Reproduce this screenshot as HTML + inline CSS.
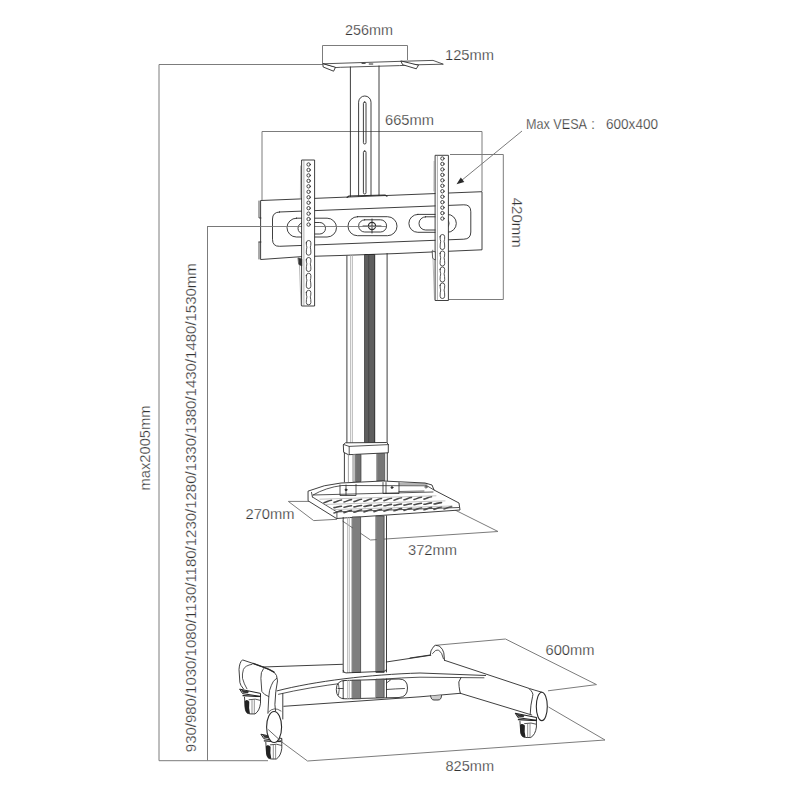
<!DOCTYPE html>
<html><head><meta charset="utf-8">
<style>
html,body{margin:0;padding:0;background:#fff;}
body{width:800px;height:800px;overflow:hidden;}
svg{display:block;}
text{font-family:"Liberation Sans",sans-serif;fill:#333;font-size:14.5px;stroke:#fff;stroke-width:0.25px;}
</style></head>
<body>
<svg width="800" height="800" viewBox="0 0 800 800">
<rect width="800" height="800" fill="#fff"/>
<!-- DIMENSIONS -->
<g fill="none" stroke="#7c7c7c" stroke-width="1">
  <path d="M322.5,64.5 H159 V760.7 H268"/>
  <path d="M372,226.5 H207.5 V760.5"/>
  <path d="M322.5,63 V45.5 H407.5 V60"/>
  <path d="M262,200 V131.5 H482 V191"/>
  <path d="M450,154.5 H503.3 V299.5 H449"/>
  <path d="M522,131 L461.5,180.5"/>
  <!-- shelf footprint -->
  <path d="M309,501.4 H288.3 L313.7,520.6 L337,519.3"/>
  <path d="M342.5,521 L370.5,540 L498,531.5 L455,510"/>
  <!-- base footprint -->
  <path d="M435.5,645.3 L505.5,639 L596.5,684.6 L548,690.8"/>
  <path d="M548.5,707 L605,740 L307.5,761 L282.5,742.5"/>
</g>
<path d="M456.5,184.2 L460.8,177.6 L464.3,182 Z" fill="#2a2a2a"/>
<!-- TEXTS -->
<text x="345" y="35" textLength="48" lengthAdjust="spacingAndGlyphs">256mm</text>
<text x="445" y="60" textLength="49" lengthAdjust="spacingAndGlyphs">125mm</text>
<text x="385" y="125" textLength="49" lengthAdjust="spacingAndGlyphs">665mm</text>
<text x="526" y="129" textLength="61" lengthAdjust="spacingAndGlyphs">Max VESA</text><text x="591" y="129">:</text><text x="606" y="129" textLength="52" lengthAdjust="spacingAndGlyphs">600x400</text>
<text transform="translate(512,197.7) rotate(90)" x="0" y="0" textLength="50" lengthAdjust="spacingAndGlyphs">420mm</text>
<text transform="translate(150.2,490.5) rotate(-90)" x="0" y="0" textLength="85" lengthAdjust="spacingAndGlyphs">max2005mm</text>
<text transform="translate(196.2,752.2) rotate(-90)" x="0" y="0" textLength="489" lengthAdjust="spacingAndGlyphs">930/980/1030/1080/1130/1180/1230/1280/1330/1380/1430/1480/1530mm</text>
<text x="245.5" y="519.2" textLength="49" lengthAdjust="spacingAndGlyphs">270mm</text>
<text x="408" y="555" textLength="49" lengthAdjust="spacingAndGlyphs">372mm</text>
<text x="545.5" y="654.8" textLength="49" lengthAdjust="spacingAndGlyphs">600mm</text>
<text x="445.5" y="771.2" textLength="48.5" lengthAdjust="spacingAndGlyphs">825mm</text>
<!-- DRAWING -->
<g id="drawing" fill="none" stroke="#2a2a2a" stroke-width="0.9" stroke-linejoin="round" stroke-linecap="round">
<!-- top plate -->
<path d="M323,63.8 L401,61.3 L433,60.4 L443.3,64.2 L416,64.8 L399.4,65.6 L340.3,67.3 L335.3,67.6 Z" fill="#fff" stroke-width="0.8"/>
<path d="M322.8,64 L323.2,67 L333.6,71.2 L335.3,67.6 Z" fill="#fff" stroke-width="0.9"/>
<path d="M401,61.3 L402.6,64.7 L416.3,68.8 L418.3,65.5 Z" fill="#fff" stroke-width="0.9"/>
<path d="M362,63.3 h3.2 M369.2,64 h3.6" stroke-width="1"/>
<!-- upper column -->
<path d="M350.4,67 V197 M379,66 V196"/>
<path d="M358.6,197 V102.2 A6.2,6.2 0 0 1 371,102.2 V196"/>
<rect x="363.4" y="102" width="2.6" height="42" rx="1.3"/>
<rect x="363.4" y="151" width="2.6" height="43" rx="1.3"/>
<!-- crossbar -->
<path d="M261,200.5 L482,191.7 V249.8 L395,253.6 L340,255.5 L302,256.6 L261,259.5 Z" fill="#fff"/>
<path d="M259,201 V218 H261 M259,242 H261 M259,242 V259" stroke-width="0.8"/>
<path d="M347,197.5 L349,196 L385,195 L387,196.2" stroke-width="1.1"/>
<path d="M279.5,212 L463.8,204.8 Q470.8,204.5 470.8,211.8 V232 Q470.8,239 463.8,239.2 L279.5,246.3 Q272.5,246.5 272.5,239.3 V219 Q272.5,212.2 279.5,212 Z"/>
<rect x="287" y="218.2" width="49.5" height="18.8" rx="9.4"/>
<rect x="298" y="222.5" width="27.5" height="11.5" rx="5.7"/>
<rect x="348" y="216.7" width="49" height="19" rx="9.5"/>
<rect x="358.6" y="219.8" width="28" height="12.2" rx="6.1"/>
<circle cx="372" cy="226" r="3.6" stroke-width="1.1"/>
<path d="M363,226 H381 M372,219 V233" stroke-width="0.9"/>
<rect x="408.9" y="214.4" width="47.4" height="17.9" rx="8.9"/>
<rect x="419" y="216.8" width="30" height="13.2" rx="6.6"/>
<!-- lower column under bar -->
<path d="M346.9,256 V443.5 M387.1,253.5 V443.5"/>
<path d="M350.6,255.5 V443.5 M352.4,255.5 V443.5" stroke="#aaa" stroke-width="0.8"/>
<rect x="365.1" y="254.5" width="9.6" height="189" fill="#5e5e5e" stroke="#2a2a2a" stroke-width="1"/>
<path d="M368.7,254.5 V443.5" stroke="#3a3a3a" stroke-width="0.6"/>
<!-- collar -->
<path d="M343.6,444.5 L345.5,442.8 L386.5,442.5 L388.3,444.2 V452.8 L348.4,454.7 L344,452.5 Z" fill="#fff"/>
<path d="M343.6,444.5 L349.2,446.4 L388.3,444.6 M349.2,446.4 V454.6" stroke-width="0.8"/>
<!-- column between collar and shelf -->
<path d="M344.4,453 V482 M387.3,453 V481"/>
<path d="M348.4,455 V482" stroke="#999" stroke-width="0.9"/>
<rect x="353.2" y="454.6" width="3" height="27" fill="#bdbdbd" stroke="#777" stroke-width="0.6"/>
<rect x="356.2" y="454.5" width="4.8" height="27" fill="#707070" stroke="#444" stroke-width="0.7"/>
<rect x="377.2" y="453.5" width="7.5" height="27.5" fill="#767676" stroke="#444" stroke-width="0.7"/>

<path d="M207.5,226.5 H386" stroke="#777" stroke-width="0.9"/>
<rect x="302" y="160" width="12.600000000000023" height="146" fill="#fff" stroke="none"/>
<path d="M302,160 H314.6 V306 H302 Z"/>
<path d="M303.9,160.5 V305.5" stroke-width="0.6" stroke="#777"/>
<path d="M300.6,166 L300.4,198 M299.2,259 L301,305" stroke-width="0.6" stroke="#888"/>
<circle cx="308.6" cy="164.50" r="1.7" stroke-width="0.85"/>
<circle cx="308.6" cy="169.96" r="1.7" stroke-width="0.85"/>
<circle cx="308.6" cy="175.42" r="1.7" stroke-width="0.85"/>
<circle cx="308.6" cy="180.88" r="1.7" stroke-width="0.85"/>
<circle cx="308.6" cy="186.34" r="1.7" stroke-width="0.85"/>
<circle cx="308.6" cy="191.80" r="1.7" stroke-width="0.85"/>
<circle cx="308.6" cy="197.26" r="1.7" stroke-width="0.85"/>
<circle cx="308.6" cy="202.72" r="1.7" stroke-width="0.85"/>
<circle cx="308.6" cy="208.18" r="1.7" stroke-width="0.85"/>
<circle cx="308.6" cy="213.64" r="1.7" stroke-width="0.85"/>
<circle cx="308.6" cy="219.10" r="1.7" stroke-width="0.85"/>
<circle cx="308.6" cy="224.56" r="1.7" stroke-width="0.85"/>
<path d="M306.3,242.8 A2.3,2.3 0 0 1 310.90000000000003,242.8 Q310.90000000000003,245.91500000000002 310.3,247.115 Q310.90000000000003,249.615 310.90000000000003,252.89999999999998 A2.3,2.3 0 0 1 306.3,252.89999999999998 Q306.3,249.615 306.90000000000003,247.115 Q306.3,245.91500000000002 306.3,242.8 Z" stroke-width="0.8"/>
<path d="M306.3,259.8 A2.3,2.3 0 0 1 310.90000000000003,259.8 Q310.90000000000003,262.6 310.3,263.8 Q310.90000000000003,266.3 310.90000000000003,269.2 A2.3,2.3 0 0 1 306.3,269.2 Q306.3,266.3 306.90000000000003,263.8 Q306.3,262.6 306.3,259.8 Z" stroke-width="0.8"/>
<path d="M306.3,275.6 A2.3,2.3 0 0 1 310.90000000000003,275.6 Q310.90000000000003,278.94 310.3,280.14 Q310.90000000000003,282.64 310.90000000000003,286.2 A2.3,2.3 0 0 1 306.3,286.2 Q306.3,282.64 306.90000000000003,280.14 Q306.3,278.94 306.3,275.6 Z" stroke-width="0.8"/>
<path d="M306.3,292.6 A2.3,2.3 0 0 1 310.90000000000003,292.6 Q310.90000000000003,295.625 310.3,296.825 Q310.90000000000003,299.325 310.90000000000003,302.5 A2.3,2.3 0 0 1 306.3,302.5 Q306.3,299.325 306.90000000000003,296.825 Q306.3,295.625 306.3,292.6 Z" stroke-width="0.8"/>
<!--R-->
<rect x="435.5" y="155.3" width="12.899999999999977" height="145.2" fill="#fff" stroke="none"/>
<path d="M435.5,155.3 H448.4 V300.5 H435.5 Z"/>
<path d="M437.4,155.8 V300.0" stroke-width="0.6" stroke="#777"/>
<path d="M434.1,161.3 L433.9,191 M432.7,250 L434.5,299.5" stroke-width="0.6" stroke="#888"/>
<circle cx="442.4" cy="158.50" r="1.7" stroke-width="0.85"/>
<circle cx="442.4" cy="163.96" r="1.7" stroke-width="0.85"/>
<circle cx="442.4" cy="169.42" r="1.7" stroke-width="0.85"/>
<circle cx="442.4" cy="174.88" r="1.7" stroke-width="0.85"/>
<circle cx="442.4" cy="180.34" r="1.7" stroke-width="0.85"/>
<circle cx="442.4" cy="185.80" r="1.7" stroke-width="0.85"/>
<circle cx="442.4" cy="191.26" r="1.7" stroke-width="0.85"/>
<circle cx="442.4" cy="196.72" r="1.7" stroke-width="0.85"/>
<circle cx="442.4" cy="202.18" r="1.7" stroke-width="0.85"/>
<circle cx="442.4" cy="207.64" r="1.7" stroke-width="0.85"/>
<circle cx="442.4" cy="213.10" r="1.7" stroke-width="0.85"/>
<circle cx="442.4" cy="218.56" r="1.7" stroke-width="0.85"/>
<path d="M440.09999999999997,236.8 A2.3,2.3 0 0 1 444.7,236.8 Q444.7,240.05 444.09999999999997,241.25 Q444.7,243.75 444.7,247.2 A2.3,2.3 0 0 1 440.09999999999997,247.2 Q440.09999999999997,243.75 440.7,241.25 Q440.09999999999997,240.05 440.09999999999997,236.8 Z" stroke-width="0.8"/>
<path d="M440.09999999999997,253.3 A2.3,2.3 0 0 1 444.7,253.3 Q444.7,256.55 444.09999999999997,257.75 Q444.7,260.25 444.7,263.7 A2.3,2.3 0 0 1 440.09999999999997,263.7 Q440.09999999999997,260.25 440.7,257.75 Q440.09999999999997,256.55 440.09999999999997,253.3 Z" stroke-width="0.8"/>
<path d="M440.09999999999997,269.3 A2.3,2.3 0 0 1 444.7,269.3 Q444.7,272.55 444.09999999999997,273.75 Q444.7,276.25 444.7,279.7 A2.3,2.3 0 0 1 440.09999999999997,279.7 Q440.09999999999997,276.25 440.7,273.75 Q440.09999999999997,272.55 440.09999999999997,269.3 Z" stroke-width="0.8"/>
<path d="M440.09999999999997,285.3 A2.3,2.3 0 0 1 444.7,285.3 Q444.7,288.77500000000003 444.09999999999997,289.975 Q444.7,292.475 444.7,296.2 A2.3,2.3 0 0 1 440.09999999999997,296.2 Q440.09999999999997,292.475 440.7,289.975 Q440.09999999999997,288.77500000000003 440.09999999999997,285.3 Z" stroke-width="0.8"/>
<path d="M298.3,258 L301.8,259 V266 L299,264.5 Z" fill="#333" stroke-width="0.6"/>
<path d="M432.5,251 L435.3,252 V260 L433,258.5 Z" fill="#fff" stroke-width="0.7"/>

<!-- shelf -->
<path d="M308.4,491 Q324,484.5 341,483 L383,481 L425,483 L432,485 L434,490 L459,503 L460,510 L336.5,518.5 L308.4,501 Z" fill="#fff"/>
<path d="M336.9,512 V518.3 M311.5,492.4 L312.4,497" stroke-width="0.8"/>
<path d="M313,495 Q326,487.5 342,485.5 L427,485.8 L434,490" stroke-width="0.8"/>
<path d="M312.4,497 L336.9,511.9 L459,507.5" stroke-width="0.8"/>
<path d="M313,495 L433,492" stroke-width="0.8"/>
<path d="M340,485 V495.5 H356 V484.5 M346,485 V495" stroke-width="0.8"/>
<path d="M383,482.5 V493.5 H399 V482.5 M386,482.5 V493.5" stroke-width="0.8"/>
<path d="M399,484 H427 M399,491.5 L424,491" stroke-width="0.7"/>
<circle cx="426" cy="487" r="1.1" stroke-width="0.7"/>
<circle cx="346" cy="489.8" r="0.9" fill="#333"/>
<circle cx="392" cy="487.5" r="0.9" fill="#333"/>
<g stroke="#4a4a4a" stroke-width="1.6" stroke-linecap="round">
<path d="M324.0,502.7 c2.5,-0.3 4.5,-2.2 7.5,-2.4 M334.0,502.4 c2.5,-0.3 4.5,-2.2 7.5,-2.4 M344.0,502.0 c2.5,-0.3 4.5,-2.2 7.5,-2.4 M354.0,501.6 c2.5,-0.3 4.5,-2.2 7.5,-2.4 M364.0,501.3 c2.5,-0.3 4.5,-2.2 7.5,-2.4 M374.0,500.9 c2.5,-0.3 4.5,-2.2 7.5,-2.4 M384.0,500.6 c2.5,-0.3 4.5,-2.2 7.5,-2.4 M394.0,500.2 c2.5,-0.3 4.5,-2.2 7.5,-2.4 M404.0,499.8 c2.5,-0.3 4.5,-2.2 7.5,-2.4 M414.0,499.5 c2.5,-0.3 4.5,-2.2 7.5,-2.4 M424.0,499.1 c2.5,-0.3 4.5,-2.2 7.5,-2.4"/>
<path d="M334.0,507.6 c2.5,-0.3 4.5,-1.2 7.5,-1.4 M344.0,507.2 c2.5,-0.3 4.5,-1.2 7.5,-1.4 M354.0,506.9 c2.5,-0.3 4.5,-1.2 7.5,-1.4 M364.0,506.5 c2.5,-0.3 4.5,-1.2 7.5,-1.4 M374.0,506.1 c2.5,-0.3 4.5,-1.2 7.5,-1.4 M384.0,505.8 c2.5,-0.3 4.5,-1.2 7.5,-1.4 M394.0,505.4 c2.5,-0.3 4.5,-1.2 7.5,-1.4 M404.0,505.1 c2.5,-0.3 4.5,-1.2 7.5,-1.4 M414.0,504.7 c2.5,-0.3 4.5,-1.2 7.5,-1.4 M424.0,504.3 c2.5,-0.3 4.5,-1.2 7.5,-1.4 M434.0,504.0 c2.5,-0.3 4.5,-1.2 7.5,-1.4"/>
<path d="M334.0,513.0 c2.5,-0.3 4.5,-2.2 7.5,-2.4 M344.0,512.6 c2.5,-0.3 4.5,-2.2 7.5,-2.4 M354.0,512.3 c2.5,-0.3 4.5,-2.2 7.5,-2.4 M364.0,511.9 c2.5,-0.3 4.5,-2.2 7.5,-2.4 M374.0,511.6 c2.5,-0.3 4.5,-2.2 7.5,-2.4 M384.0,511.2 c2.5,-0.3 4.5,-2.2 7.5,-2.4 M394.0,510.8 c2.5,-0.3 4.5,-2.2 7.5,-2.4 M404.0,510.5 c2.5,-0.3 4.5,-2.2 7.5,-2.4 M414.0,510.1 c2.5,-0.3 4.5,-2.2 7.5,-2.4 M424.0,509.8 c2.5,-0.3 4.5,-2.2 7.5,-2.4 M434.0,509.4 c2.5,-0.3 4.5,-2.2 7.5,-2.4 M444.0,509.0 c2.5,-0.3 4.5,-2.2 7.5,-2.4"/>
<path d="M320,499.2 L436,495.8 M326,504.4 L445,500.9 M332,509.6 L452,506" stroke="#aaa" stroke-width="0.7"/>
</g>
<!-- lower column -->
<path d="M343.2,517.5 V672.5 M386.5,515.8 V672"/>
<path d="M347.6,517.3 V672.5 M349.3,517.2 V672.5" stroke="#aaa" stroke-width="0.8"/>
<rect x="352.5" y="517" width="8.1" height="155.5" fill="#7e7e7e" stroke="#444" stroke-width="0.8"/>
<rect x="376.3" y="516" width="7.8" height="156.5" fill="#7e7e7e" stroke="#444" stroke-width="0.8"/>
<path d="M343.2,670.5 Q343.5,673 346,672.9 L384,671.3 Q386.5,671 386.5,669.5"/>
<!-- base -->
<path d="M263,667 L342.5,664.3 M386.3,662 L431,655.2"/>
<path d="M277,690.9 C315,681 370,674.5 420,673 L485.6,675.5" />
<path d="M278.5,694.3 C318,685 372,678.5 420,677.2 L484,677.8" stroke-width="0.8"/>
<path d="M283.8,706.3 L420,696.8 L460.3,693.3"/>
<path d="M282.8,693.5 V719"/>
<path d="M345,680.5 L399,679 Q407.5,679 407.5,688 Q407.5,697 399,697.5 L345,698.8 Q336.3,698.8 336.3,689.5 Q336.3,680.5 345,680.5 Z" fill="#fff"/>
<path d="M343.2,680.5 V698.8 M386.5,679 V697.5"/>
<path d="M347.6,680.5 V698.8 M349.3,680.5 V698.8" stroke="#aaa" stroke-width="0.8"/>
<rect x="352.5" y="680.3" width="8.1" height="18.5" fill="#7e7e7e" stroke="#444" stroke-width="0.8"/>
<rect x="376.3" y="679.2" width="7.8" height="18.3" fill="#7e7e7e" stroke="#444" stroke-width="0.8"/>
<path d="M338,688.5 H343 M386.5,689.5 Q396,688.8 404.5,688.5 M386.5,683 L390.5,680" stroke-width="0.8"/>
<path d="M338.5,684 Q340,690 338.5,695" stroke-width="0.7"/>
<path d="M430.6,695.8 Q431,700 434,700 H438 Q441.5,700 441.5,695.5" fill="#ccc"/>
<!-- left leg -->
<path d="M243.4,688.8 Q240.2,685 239.9,682.6 L239,669.5 Q239.5,662 242.5,659.9 L253,663.4 L262.6,666.9 Q270,669.5 274,672.1 Q277.3,674.5 277.5,680.9 L275.8,691.4 L274.9,704.5 L275.5,711" fill="#fff"/>
<path d="M252,664.3 Q245,665.5 243.4,669.5 Q242,674 242.5,678.3 Q244,684 246.9,688.8" stroke-width="0.8"/>
<path d="M263.5,668.6 Q260.5,672 260.9,678.3 L261.8,691.4 Q264,695 268.8,696.6" stroke-width="0.85"/>
<path d="M276.6,678.3 Q272.5,681 271.4,685.3 Q269,690 268.8,696.6 L267.9,713.3" stroke-width="0.85"/>
<path d="M253,663.4 L262.6,666.9 Q270,669.5 274,672.1" stroke-width="1.3"/>
<!-- casters -->
<defs><g id="cst">
<path d="M0,0 L20.5,4.2 V7.2 L3,4.5 Z" fill="#fff" stroke="#222" stroke-width="1"/>
<path d="M1,0.5 L9,2 L8,4 L3,3.5 Z" fill="#333" stroke="none"/>
<path d="M3,6.5 L20.5,7.5" stroke-width="1.2" stroke="#222"/>
<path d="M4.5,8 L5.3,20 Q6.2,24.4 10,24.7 L15,24.7 Q19.5,22 20.5,14 L20.5,8" fill="#fff"/>
<path d="M9,10.5 Q16,9 20,11" stroke-width="0.8"/>
<path d="M4.6,12 Q4.4,22 7.2,24.2 L10,24.5 Q8.6,19 9.3,12.5 Q8,10.5 6,11 Z" fill="#222" stroke="none"/>
<path d="M12,10.5 V24.6 M14.3,10.5 V24.6" stroke-width="0.7" stroke="#666"/>
</g></defs>
<use href="#cst" transform="translate(240,689.2)"/>
<use href="#cst" transform="translate(261.3,734.3)"/>
<use href="#cst" transform="translate(515.3,713.3) scale(1.03,0.98)"/>
<ellipse cx="274.1" cy="727" rx="7.5" ry="15.5" fill="#fff" stroke-width="1.1"/>
<path d="M268.5,712 Q274,706 281,711" stroke-width="0.7"/>
<path d="M268.5,729.8 L282.5,742.5" stroke="#6a6a6a" stroke-width="1"/>
<!-- right leg -->
<path d="M410,658 L430.3,655"/>
<path d="M444.5,660.3 L529.4,688.5 Q534,690 541.8,692.2"/>
<path d="M460.3,693.3 L531.8,715"/>
<path d="M461,677.5 Q457.5,682 459.1,686.5 Q459.5,690 460.3,693.3"/>
<path d="M529.4,689 Q534,693 532.6,696.3 Q530.5,705 530.2,714"/>
<path d="M430.3,655 Q430.5,650 432.5,648.3 Q434,645.5 435.5,645.3 L439.3,646 Q443,649 443.8,652.8 L444.5,660.3" fill="#fff"/>
<path d="M432.5,653.5 Q436,649 438.5,650 Q442,652 443.5,658.8" stroke-width="0.8"/>
<ellipse cx="541.8" cy="706.4" rx="5.5" ry="14.2" fill="#fff" stroke-width="1.1"/>

</g>
</svg>
</body></html>
